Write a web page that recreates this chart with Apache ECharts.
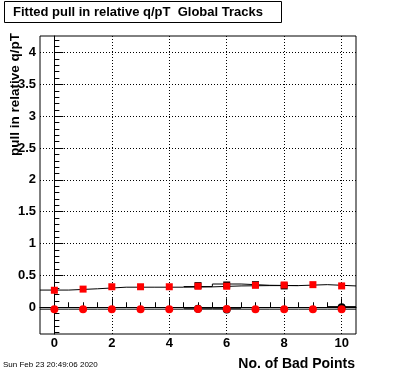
<!DOCTYPE html>
<html>
<head>
<meta charset="utf-8">
<script src="https://cdn.jsdelivr.net/npm/echarts@6/dist/echarts.min.js"></script>
<style>
html,body{margin:0;padding:0;background:#fff;}
#c{width:396px;height:372px;}
</style>
</head>
<body>
<div id="c"></div>
<script>
// ---- data ----
var bins = [0, 1, 2, 3, 4, 5, 6, 7, 8, 9, 10];
var redSquares = [0.267, 0.285, 0.322, 0.322, 0.322, 0.33, 0.33, 0.345, 0.35, 0.355, 0.335];
var redCircles = [-0.03, -0.03, -0.03, -0.03, -0.03, -0.027, -0.027, -0.03, -0.03, -0.03, -0.03];
var blackSqBins = [5, 6, 7, 8];
var blackSquares = [0.34, 0.35, 0.355, 0.335];
var blackCircBins = [5, 6, 10];
var blackCircles = [-0.022, -0.035, 0.0];
var upperHistA = [0.27, 0.29, 0.315, 0.315, 0.315, 0.32, 0.335, 0.34, 0.34, 0.355, 0.335];
var upperHistBBins = [5, 6, 7, 8];
var upperHistB = [0.325, 0.365, 0.345, 0.34];
var lowerHistA = [-0.03, -0.03, -0.03, -0.03, -0.03, -0.03, -0.03, -0.03, -0.03, -0.03, -0.03];
var lowerHistBBins = [5, 6];
var lowerHistB = [-0.015, -0.015];
var lowerHistCBins = [10];
var lowerHistC = [0.01];
var xTicks = [0, 2, 4, 6, 8, 10];
var yTicks = [0, 0.5, 1, 1.5, 2, 2.5, 3, 3.5, 4];
var xMin = -0.5, xMax = 10.5, yMin = -0.42, yMax = 4.26;

// minor tick positions
var xMinor = [];
for (var i = -1; i <= 21; i++) { var v = i * 0.5; if (v > xMin && v < xMax && xTicks.indexOf(v) < 0) xMinor.push(v); }
var yMinor = [];
for (var j = -4; j <= 42; j++) { var w = Math.round(j) / 10; if (w > yMin && w < yMax && j % 5 !== 0) yMinor.push(w); }

function pairs(xs, ys) { return xs.map(function (x, k) { return [x, ys[k]]; }); }
function histPath(xs, ys) {
  var d = xs.map(function (x, k) { return [x - 0.5, ys[k]]; });
  d.push([xs[xs.length - 1] + 0.5, ys[ys.length - 1]]);
  return d;
}

var font = '"Liberation Sans", Arial, Helvetica, sans-serif';
var chart = echarts.init(document.getElementById('c'), null, {renderer: 'canvas'});

function histSeries(xs, ys) {
  return {
    type: 'line', step: 'end', data: histPath(xs, ys), symbol: 'none',
    lineStyle: {color: '#000', width: 1}, z: 2, silent: true
  };
}
function markerSeries(xs, ys, sym, size, color, z) {
  return {type: 'scatter', data: pairs(xs, ys), symbol: sym, symbolSize: size,
    itemStyle: {color: color, opacity: 1}, z: z, silent: true};
}

var option = {
  animation: false,
  backgroundColor: '#fff',
  grid: {left: 40, right: 40, top: 36, bottom: 38, show: true, borderColor: '#000', borderWidth: 1, backgroundColor: 'transparent', containLabel: false, outerBoundsMode: 'none'},
  xAxis: [{
    type: 'value', min: xMin, max: xMax, position: 'bottom',
    axisLine: {show: true, lineStyle: {color: '#000', width: 1}},
    axisTick: {show: true, inside: true, length: 9, customValues: xTicks, lineStyle: {color: '#000'}},
    axisLabel: {show: true, customValues: xTicks, color: '#000', fontFamily: font, fontWeight: 'bold', fontSize: 13, margin: 3},
    splitLine: {show: true, lineStyle: {color: '#000', width: 1, type: [1, 2]}}
  }, {
    type: 'value', min: xMin, max: xMax, position: 'bottom',
    axisLine: {show: false},
    axisTick: {show: true, inside: true, length: 5, customValues: xMinor, lineStyle: {color: '#000'}},
    axisLabel: {show: false},
    splitLine: {show: false}
  }],
  yAxis: [{
    type: 'value', min: yMin, max: yMax, position: 'left',
    axisLine: {show: true, lineStyle: {color: '#000', width: 1}},
    axisTick: {show: true, inside: true, length: 9, customValues: yTicks, lineStyle: {color: '#000'}},
    axisLabel: {show: true, customValues: yTicks, color: '#000', fontFamily: font, fontWeight: 'bold', fontSize: 13, margin: 4},
    splitLine: {show: true, lineStyle: {color: '#000', width: 1, type: [1, 2]}}
  }, {
    type: 'value', min: yMin, max: yMax, position: 'left',
    axisLine: {show: false},
    axisTick: {show: true, inside: true, length: 5, customValues: yMinor, lineStyle: {color: '#000'}},
    axisLabel: {show: false},
    splitLine: {show: false}
  }],
  series: [
    histSeries(bins, upperHistA),
    histSeries(upperHistBBins, upperHistB),
    histSeries(bins, lowerHistA),
    histSeries(lowerHistBBins, lowerHistB),
    histSeries(lowerHistCBins, lowerHistC),
    markerSeries(blackSqBins, blackSquares, 'rect', 7, '#000', 3),
    markerSeries(blackCircBins, blackCircles, 'circle', 8, '#000', 3),
    markerSeries(bins, redSquares, 'rect', 7, '#ff0000', 4),
    markerSeries(bins, redCircles, 'circle', 8, '#ff0000', 4)
  ],
  graphic: [
    {type: 'rect', shape: {x: 4.5, y: 1.5, width: 277, height: 21}, style: {fill: '#fff', stroke: '#000', lineWidth: 1}, z: 10},
    {type: 'text', x: 13, y: 12, style: {text: 'Fitted pull in relative q/pT  Global Tracks', fill: '#000', font: 'bold 13px ' + font, textAlign: 'left', textVerticalAlign: 'middle'}, z: 11},
    {type: 'text', x: 15, y: 33, rotation: Math.PI / 2, style: {text: 'pull in relative q/pT', fill: '#000', font: 'bold 13.5px ' + font, textAlign: 'right', textVerticalAlign: 'middle'}, z: 11},
    {type: 'text', x: 355, y: 364, style: {text: 'No. of Bad Points', fill: '#000', font: 'bold 14px ' + font, textAlign: 'right', textVerticalAlign: 'middle'}, z: 11},
    {type: 'text', x: 3, y: 365, style: {text: 'Sun Feb 23 20:49:06 2020', fill: '#000', font: '8px ' + font, textAlign: 'left', textVerticalAlign: 'middle'}, z: 11}
  ]
};
chart.setOption(option);
</script>
</body>
</html>
